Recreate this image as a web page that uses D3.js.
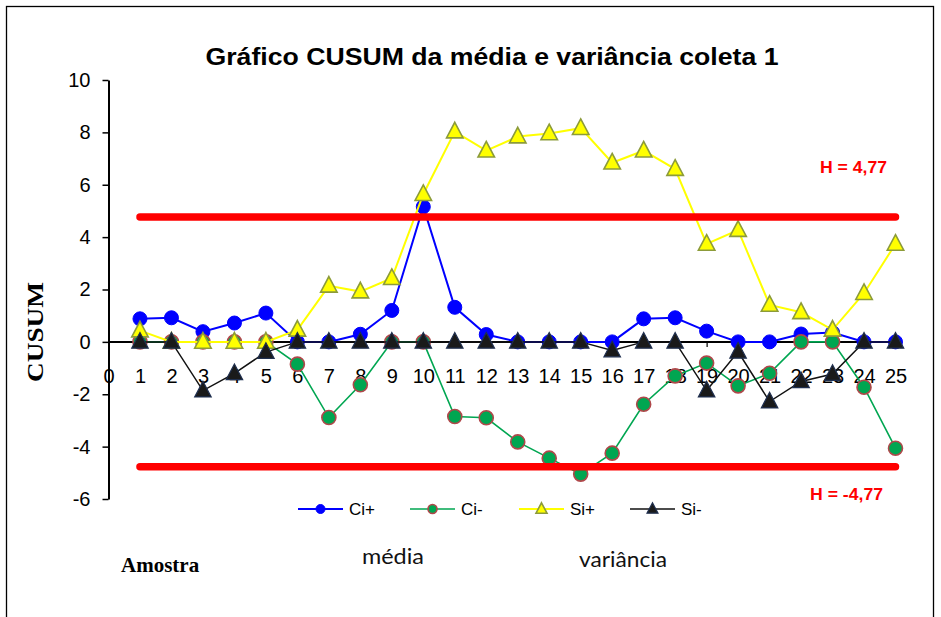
<!DOCTYPE html>
<html><head><meta charset="utf-8">
<script src="https://cdn.jsdelivr.net/npm/d3@7"></script>
<style>body{margin:0;background:#fff}svg{display:block}</style>
</head><body>
<svg id="c" width="941" height="617"></svg>
<script>
const samples = d3.range(1, 26);
const ciPlus  = [0.88,0.92,0.39,0.72,1.10,0,0,0.29,1.20,5.16,1.32,0.28,0,0,0,0,0.88,0.92,0.41,0,0,0.30,0.36,0,0];
const ciMinus = [0,0,0,0,0,-0.85,-2.89,-1.64,0,0,-2.85,-2.90,-3.82,-4.44,-5.05,-4.25,-2.38,-1.30,-0.81,-1.68,-1.20,0,0,-1.73,-4.06];
const siPlus  = [0.43,0,0,0,0,0.46,2.14,1.92,2.43,5.64,8.03,7.30,7.84,7.96,8.16,6.84,7.30,6.60,3.74,4.27,1.41,1.13,0.46,1.86,3.74];
const siMinus = [0,0,-1.86,-1.20,-0.39,0,0,0,0,0,0,0,0,0,0,-0.33,0,0,-1.86,-0.38,-2.28,-1.51,-1.23,0,0];
const hLimits = [4.77, -4.77];
const hLabels = ["H = 4,77", "H = -4,77"];
const xTicks = d3.range(0, 26);
const yTicks = [-6,-4,-2,0,2,4,6,8,10];
const seriesNames = ["Ci+", "Ci-", "Si+", "Si-"];

const svg = d3.select("#c");
const x = d3.scaleLinear().domain([0, 25]).range([108.5, 895.5]);
const y = d3.scaleLinear().domain([-6, 10]).range([499, 80]);
const fmt = d => String(d);

// frame
svg.append("rect").attr("x", 6.5).attr("y", 6.5).attr("width", 927).attr("height", 700)
  .attr("fill", "none").attr("stroke", "#000").attr("stroke-width", 1.3);

// title
svg.append("text").attr("x", 492).attr("y", 65).attr("text-anchor", "middle")
  .attr("font-family", "Liberation Sans, Arial, sans-serif").attr("font-weight", "bold")
  .attr("font-size", 24).attr("textLength", 573).attr("lengthAdjust", "spacingAndGlyphs")
  .text("Gráfico CUSUM da média e variância coleta 1");

// y axis
const yAxis = svg.append("g").attr("transform", `translate(${x(0)},0)`)
  .call(d3.axisLeft(y).tickValues(yTicks).tickFormat(fmt).tickSize(6).tickSizeOuter(0).tickPadding(12));
yAxis.select(".domain").attr("stroke-width", 2);
yAxis.selectAll(".tick line").attr("stroke-width", 1.5);
yAxis.selectAll("text").attr("font-family", "Liberation Sans, Arial, sans-serif").attr("font-size", 20).attr("fill", "#000");

// x axis
const xAxis = svg.append("g").attr("transform", `translate(0,${y(0)})`)
  .call(d3.axisBottom(x).tickValues(xTicks).tickFormat(fmt).tickSize(5).tickSizeOuter(0).tickPadding(22));
xAxis.select(".domain").remove();
xAxis.selectAll(".tick line").attr("stroke-width", 1.2);
xAxis.selectAll("text").attr("font-family", "Liberation Sans, Arial, sans-serif").attr("font-size", 20).attr("fill", "#000");
svg.append("line").attr("x1", x(0)).attr("x2", x(25) + 5).attr("y1", y(0)).attr("y2", y(0))
  .attr("stroke", "#000").attr("stroke-width", 2);

// axis titles
svg.append("text").attr("transform", `translate(43,332) rotate(-90)`).attr("text-anchor", "middle")
  .attr("font-family", "Liberation Serif, Times New Roman, serif").attr("font-weight", "bold")
  .attr("font-size", 23).attr("textLength", 100).attr("lengthAdjust", "spacingAndGlyphs").text("CUSUM");
svg.append("text").attr("x", 121).attr("y", 572)
  .attr("font-family", "Liberation Serif, Times New Roman, serif").attr("font-weight", "bold")
  .attr("font-size", 21).text("Amostra");
svg.append("text").attr("x", 362).attr("y", 564)
  .attr("font-family", "Lato, Open Sans, sans-serif").attr("font-size", 22).attr("fill", "#111")
  .attr("textLength", 62).attr("lengthAdjust", "spacingAndGlyphs").text("média");
svg.append("text").attr("x", 579).attr("y", 567)
  .attr("font-family", "Lato, Open Sans, sans-serif").attr("font-size", 22).attr("fill", "#111")
  .attr("textLength", 88).attr("lengthAdjust", "spacingAndGlyphs").text("variância");

const styles = [
  {vals: ciPlus,  line: "#0000FF", lw: 2,   shape: "circle",   fill: "#0000FF", stroke: "#0000FF", sw: 1},
  {vals: ciMinus, line: "#00A651", lw: 1.6, shape: "circle",   fill: "#00A651", stroke: "#B0474A", sw: 1.6},
  {vals: siPlus,  line: "#FFFF00", lw: 2,   shape: "triangle", fill: "#FFFF00", stroke: "#8C9B3A", sw: 1.6},
  {vals: siMinus, line: "#111111", lw: 1.5, shape: "triangle", fill: "#1A1A1A", stroke: "#1F2F4F", sw: 1.2}
];
const triPath = (s) => `M0,${-s*0.62}L${s*0.55},${s*0.42}L${-s*0.55},${s*0.42}Z`;

styles.forEach(st => {
  const pts = samples.map((s, i) => [s, st.vals[i]]);
  svg.append("path").datum(pts)
    .attr("d", d3.line().x(d => x(d[0])).y(d => y(d[1])))
    .attr("fill", "none").attr("stroke", st.line).attr("stroke-width", st.lw);
  const g = svg.append("g");
  if (st.shape === "circle") {
    g.selectAll("circle").data(pts).join("circle")
      .attr("cx", d => x(d[0])).attr("cy", d => y(d[1])).attr("r", 7)
      .attr("fill", st.fill).attr("stroke", st.stroke).attr("stroke-width", st.sw);
  } else {
    g.selectAll("path").data(pts).join("path")
      .attr("transform", d => `translate(${x(d[0])},${y(d[1])})`)
      .attr("d", triPath(15))
      .attr("fill", st.fill).attr("stroke", st.stroke).attr("stroke-width", st.sw);
  }
});

// H limit lines
hLimits.forEach(h => {
  svg.append("path").datum(samples)
    .attr("d", d3.line().x(d => x(d)).y(() => y(h)))
    .attr("fill", "none").attr("stroke", "#FF0000").attr("stroke-width", 7.5).attr("stroke-linecap", "round");
});
svg.append("text").attr("x", 820).attr("y", 173).attr("fill", "#FF0000")
  .attr("font-family", "Liberation Sans, Arial, sans-serif").attr("font-weight", "bold").attr("font-size", 17)
  .attr("textLength", 67).attr("lengthAdjust", "spacingAndGlyphs").text(hLabels[0]);
svg.append("text").attr("x", 810).attr("y", 500).attr("fill", "#FF0000")
  .attr("font-family", "Liberation Sans, Arial, sans-serif").attr("font-weight", "bold").attr("font-size", 17)
  .attr("textLength", 73).attr("lengthAdjust", "spacingAndGlyphs").text(hLabels[1]);

// legend
const legX = [298, 410, 519, 630];
seriesNames.forEach((name, i) => {
  const st = styles[i];
  const g = svg.append("g").attr("transform", `translate(${legX[i]},509)`);
  g.append("line").attr("x1", 0).attr("x2", 45).attr("stroke", st.line).attr("stroke-width", st.lw);
  if (st.shape === "circle") {
    g.append("circle").attr("cx", 22.5).attr("r", 4.5).attr("fill", st.fill).attr("stroke", st.stroke).attr("stroke-width", st.sw);
  } else {
    g.append("path").attr("transform", "translate(22.5,0)").attr("d", triPath(10))
      .attr("fill", st.fill).attr("stroke", st.stroke).attr("stroke-width", st.sw);
  }
  g.append("text").attr("x", 51).attr("y", 6).attr("font-family", "Liberation Sans, Arial, sans-serif")
    .attr("font-size", 17).attr("fill", "#000").text(name);
});
</script>
</body></html>
